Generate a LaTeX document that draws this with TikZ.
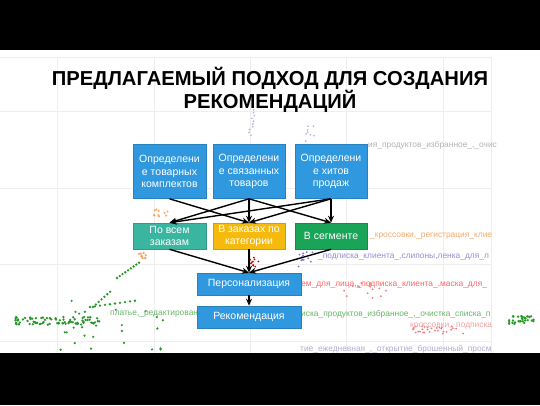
\documentclass[tikz,border=0pt]{standalone}
\usepackage{fontspec}
\setmainfont{Liberation Sans}
\usetikzlibrary{arrows.meta,positioning}

\definecolor{boxblue}{RGB}{47,152,222}
\definecolor{boxteal}{RGB}{58,182,160}
\definecolor{boxorange}{RGB}{246,186,12}
\definecolor{boxgreen}{RGB}{26,164,88}
\definecolor{dotgreen}{RGB}{40,150,40}
\definecolor{dotorange}{RGB}{245,170,110}
\definecolor{dotpurple}{RGB}{130,110,200}
\definecolor{dotpink}{RGB}{240,120,120}
\definecolor{gridgray}{RGB}{238,238,238}

\tikzset{
  stage/.style={draw=#1!85!black, fill=#1, text=white, align=center,
    font=\fontsize{10.5}{12.5}\selectfont, inner sep=0pt, line width=0.6pt},
  link/.style={line width=1.4pt, -{Stealth[length=7pt,width=6pt]}},
  bglabel/.style={anchor=west, inner sep=0pt, font=\fontsize{8.4}{10}\selectfont},
  gridline/.style={gridgray, line width=0.6pt},
}

\begin{document}
\begin{tikzpicture}[x=1pt,y=-1pt]
\useasboundingbox (0,0) rectangle (540,405);
\fill[white] (0,0) rectangle (540,405);

% faint plot behind the diagram
\foreach \gx in {57,154,250,346,443,491}
  \draw[gridline] (\gx,57) -- (\gx,353);
\foreach \gy in {57,111,188,264,341}
  \draw[gridline] (0,\gy) -- (491,\gy);

\pgfmathsetseed{11}
\foreach \i in {1,...,80}
  \fill[dotgreen] ({15+85*rnd},{321+4*rand}) circle (1.3pt);
\foreach \t in {0,0.1,...,1}
  \fill[dotgreen] ({90+50*\t},{307-7*\t}) circle (1.3pt);
\foreach \t in {0,0.15,...,1}
  \fill[dotgreen] ({93+19*\t},{307-17*\t}) circle (1.3pt);
\foreach \t in {0,0.12,...,1}
  \fill[dotgreen] ({117+23*\t},{278-16*\t}) circle (1.3pt);
\foreach \i in {1,...,25}
  \fill[dotgreen] ({60+110*rnd},{300+50*rnd}) circle (1.2pt);
\foreach \i in {1,...,30}
  \fill[dotgreen] ({508+32*rnd},{320+4*rand}) circle (1.3pt);
\foreach \i in {1,...,10}
  \fill[dotorange] ({142+4*rand},{256+3*rand}) circle (1.3pt);
\foreach \i in {1,...,10}
  \fill[dotorange] ({160+8*rand},{213+4*rand}) circle (1.2pt);
\foreach \t in {0,0.1,...,1}
  \fill[dotpurple!60] ({252+3*rand},{110+28*\t}) circle (0.9pt);
\foreach \i in {1,...,8}
  \fill[dotpurple!60] ({305+10*rnd},{125+18*rnd}) circle (0.9pt);
\foreach \i in {1,...,14}
  \fill[dotpurple] ({308+10*rand},{258+10*rand}) circle (1pt);
\foreach \i in {1,...,10}
  \fill[red!80!black] ({256+6*rand},{262+6*rand}) circle (1pt);
\foreach \i in {1,...,15}
  \fill[dotpink] ({343+44*rnd},{283+15*rnd}) circle (1pt);
\foreach \i in {1,...,30}
  \fill[dotpink] ({410+57*rnd},{330+4*rand}) circle (1pt);

\node[bglabel, text=gray!60] at (368,145) {ия\_продуктов\_избранное\_,\_очис};
\node[bglabel, text=dotorange] at (370,236) {\_кроссовки,\_регистрация\_клие};
\node[bglabel, text=dotpurple!80] at (318,257) {\_подписка\_клиента\_,слипоны,ленка\_для\_л};
\node[bglabel, text=red!60] at (301,285) {ем\_для\_лица,\_подписка\_клиента\_,маска\_для\_};
\node[bglabel, text=dotgreen!70] at (301,314) {иска\_продуктов\_избранное\_,\_очистка\_списка\_п};
\node[bglabel, text=dotpink!70] at (410,326) {кроссовки,\_подписка};
\node[bglabel, text=blue!25!gray!50] at (300,349) {тие\_ежедневная\_,\_открытие\_брошенный\_просм};
\node[bglabel, text=dotgreen!70] at (110,314) {платье,\_редактирован};

% black bars
\fill[black] (0,0) rectangle (540,50);
\fill[black] (0,353) rectangle (540,405);

\node[font=\fontsize{20.2}{20}\selectfont\bfseries, align=center] (title) at (270,90)
  {ПРЕДЛАГАЕМЫЙ ПОДХОД ДЛЯ СОЗДАНИЯ\\РЕКОМЕНДАЦИЙ};

% top row
\node[stage=boxblue, minimum width=73pt, minimum height=54pt] (kits) at (169.5,171.5)
  {Определени\\е товарных\\комплектов};
\node[stage=boxblue, minimum width=72pt, minimum height=54pt] (related) at (249,171.5)
  {Определени\\е связанных\\товаров};
\node[stage=boxblue, minimum width=72pt, minimum height=54pt] (hits) at (331,171.5)
  {Определени\\е хитов\\продаж};

% middle row
\node[stage=boxteal, minimum width=73pt, minimum height=26pt] (allorders) at (169.5,236)
  {По всем\\заказам};
\node[stage=boxorange, minimum width=72pt, minimum height=26pt] (bycat) at (249,236)
  {В заказах по\\категории};
\node[stage=boxgreen, minimum width=72pt, minimum height=26pt] (segment) at (331,236)
  {В сегменте};

% bottom
\node[stage=boxblue, minimum width=104pt, minimum height=22pt] (personal) at (249,284)
  {Персонализация};
\node[stage=boxblue, minimum width=104pt, minimum height=22pt] (recommend) at (249,317)
  {Рекомендация};

\draw[link] (kits.south) -- (bycat.north);
\foreach \b in {allorders,bycat,segment} {
  \draw[link] (related.south) -- (\b.north);
  \draw[link] (hits.south) -- (\b.north);
  \draw[link] (\b.south) -- (personal.north);
}
\draw[link] (personal) -- (recommend);
\end{tikzpicture}
\end{document}
